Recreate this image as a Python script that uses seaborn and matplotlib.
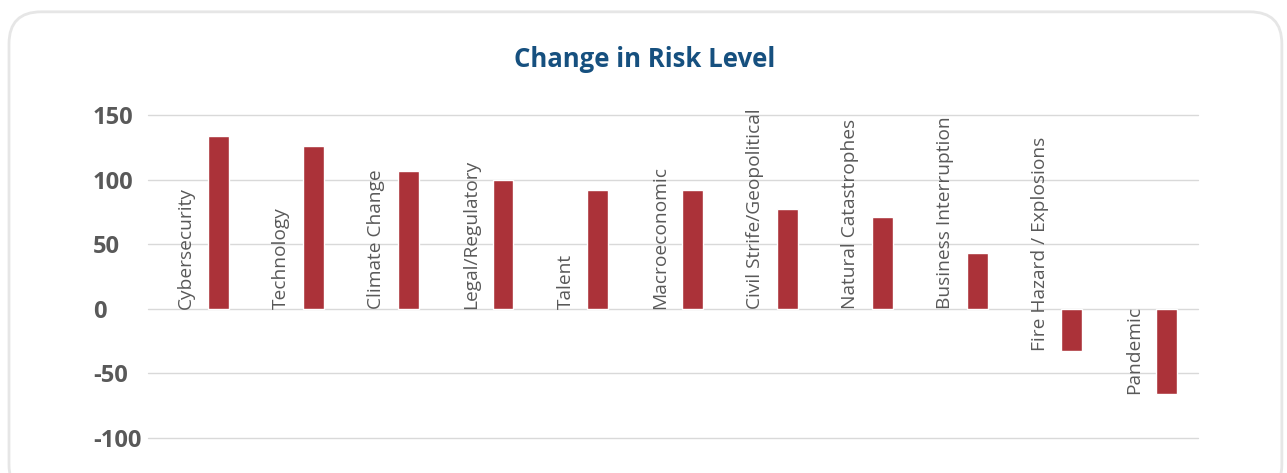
import matplotlib
matplotlib.use("Agg")
import matplotlib.pyplot as plt
from matplotlib.patches import FancyBboxPatch
import seaborn as sns
import pandas as pd

categories = ["Cybersecurity", "Technology", "Climate Change", "Legal/Regulatory",
              "Talent", "Macroeconomic", "Civil Strife/Geopolitical",
              "Natural Catastrophes", "Business Interruption",
              "Fire Hazard / Explosions", "Pandemic"]
change = [134, 126, 107, 100, 92, 92, 77, 71, 43, -33, -66]
y_ticks = [150, 100, 50, 0, -50, -100]

df = pd.DataFrame({"risk": categories, "change": change})

sns.set_theme(style="white")
plt.rcParams["font.family"] = ["Open Sans", "DejaVu Sans"]

BAR = "#AB3239"
TEXT = "#595959"
GRID = "#D9D9D9"

fig = plt.figure(figsize=(12.87, 4.73), dpi=100)
ax = fig.add_axes([0.115, 0.074, 0.816, 0.683])

sns.barplot(data=df, x="risk", y="change", color=BAR, width=0.22,
            saturation=1, ax=ax)
# bars sit right of the category centre, the name sits to the left
for p in ax.patches:
    p.set_x(p.get_x() + 0.24)

for i, (name, val) in enumerate(zip(categories, change)):
    ax.text(i - 0.1, min(0, val), name, rotation=90, ha="center", va="bottom",
            fontsize=13.8, color=TEXT)

ax.set_xlim(-0.504, 10.572)
ax.set_ylim(-100, 150)
ax.set_yticks(y_ticks)
ax.set_yticklabels([str(t) for t in y_ticks], fontsize=17, fontweight="bold",
                   color=TEXT, ha="left")
ax.tick_params(axis="y", length=0, pad=39.6)
ax.set_xticks([])
ax.set_xlabel("")
ax.set_ylabel("")
ax.grid(axis="y", color=GRID, linewidth=1)
for gl in ax.get_ygridlines():
    gl.set_clip_on(False)
ax.set_axisbelow(True)
for s in ax.spines.values():
    s.set_visible(False)

fig.text(0.501, 0.874, "Change in Risk Level", ha="center", va="center",
         fontsize=18.5, fontweight="bold", color="#16507F")

frame = FancyBboxPatch((0.007, -0.05), 0.989, 1.025,
                       boxstyle="round,pad=0,rounding_size=0.025",
                       transform=fig.transFigure, facecolor="none",
                       edgecolor="#E6E6E6", linewidth=2, mutation_aspect=2.7)
fig.patches.append(frame)

fig.savefig("out.png", dpi=100, facecolor="white")
